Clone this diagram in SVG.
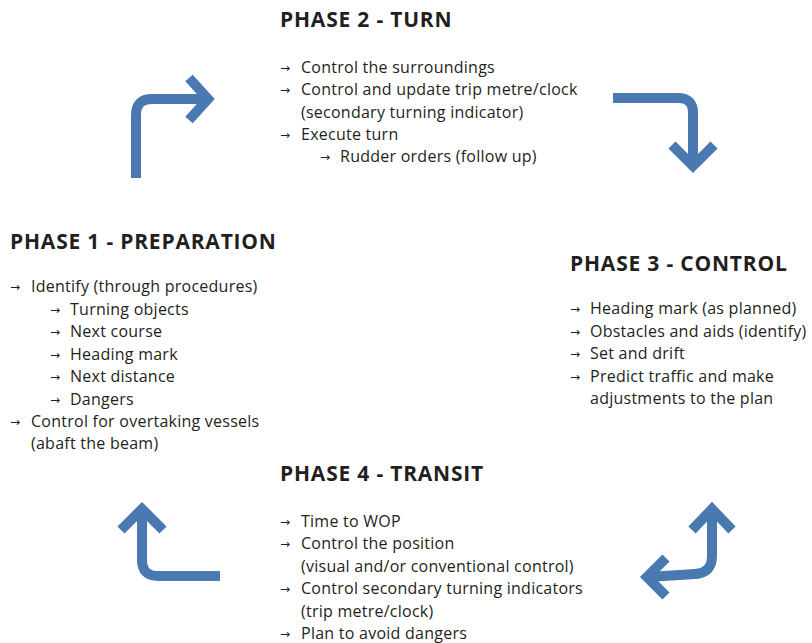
<svg xmlns="http://www.w3.org/2000/svg" width="812" height="643" viewBox="0 0 812 643">
<style>
.t{font-family:"Open Sans","Liberation Sans",sans-serif;font-weight:700;font-size:21px;letter-spacing:0.8px;fill:#231f20}
.b{font-family:"Open Sans","Liberation Sans",sans-serif;font-size:16px;letter-spacing:0.25px;fill:#231f20}
.a{font-family:"DejaVu Sans",sans-serif;font-size:12px;fill:#231f20}
.c{fill:none;stroke:#4a78b0;stroke-width:10;stroke-linecap:butt;stroke-linejoin:miter}
</style>
<rect width="812" height="643" fill="#ffffff"/>
<g id="connectors">
<path class="c" d="M136,178 V115 Q136,99 152,99 H208"/>
<path class="c" d="M189,78 L208,99 L189,120"/>
<path class="c" d="M613,98 H678 Q693,98 693,113 V165"/>
<path class="c" d="M672,145 L693,166 L714,145"/>
<path class="c" d="M220,576 H158 Q142,576 142,560 V510"/>
<path class="c" d="M121,530 L142,509 L163,530"/>
<path class="c" d="M712,510 V556 Q712,573 695,574 L648,577"/>
<path class="c" d="M692,530 L712,509 L732,530"/>
<path class="c" d="M666,558 L647,577 L666,596"/>
</g>
<g id="phase2">
<text class="t" x="280" y="27">PHASE 2 - TURN</text>
<text class="a" x="280" y="72">→</text><text class="b" x="301" y="73">Control the surroundings</text>
<text class="a" x="280" y="94">→</text><text class="b" x="301" y="95">Control and update trip metre/clock</text>
<text class="b" x="301" y="118">(secondary turning indicator)</text>
<text class="a" x="280" y="139">→</text><text class="b" x="301" y="140">Execute turn</text>
<text class="a" x="320" y="161">→</text><text class="b" x="340" y="162">Rudder orders (follow up)</text>
</g>
<g id="phase1">
<text class="t" x="10" y="249">PHASE 1 - PREPARATION</text>
<text class="a" x="10" y="291">→</text><text class="b" x="31" y="292">Identify (through procedures)</text>
<text class="a" x="50" y="314">→</text><text class="b" x="70" y="315">Turning objects</text>
<text class="a" x="50" y="336">→</text><text class="b" x="70" y="337">Next course</text>
<text class="a" x="50" y="359">→</text><text class="b" x="70" y="360">Heading mark</text>
<text class="a" x="50" y="381">→</text><text class="b" x="70" y="382">Next distance</text>
<text class="a" x="50" y="404">→</text><text class="b" x="70" y="405">Dangers</text>
<text class="a" x="10" y="426">→</text><text class="b" x="31" y="427">Control for overtaking vessels</text>
<text class="b" x="31" y="449">(abaft the beam)</text>
</g>
<g id="phase3">
<text class="t" x="570" y="271">PHASE 3 - CONTROL</text>
<text class="a" x="570" y="313">→</text><text class="b" x="590" y="314">Heading mark (as planned)</text>
<text class="a" x="570" y="336">→</text><text class="b" x="590" y="337">Obstacles and aids (identify)</text>
<text class="a" x="570" y="358">→</text><text class="b" x="590" y="359">Set and drift</text>
<text class="a" x="570" y="381">→</text><text class="b" x="590" y="382">Predict traffic and make</text>
<text class="b" x="590" y="404">adjustments to the plan</text>
</g>
<g id="phase4">
<text class="t" x="280" y="481">PHASE 4 - TRANSIT</text>
<text class="a" x="280" y="526">→</text><text class="b" x="301" y="527">Time to WOP</text>
<text class="a" x="280" y="548">→</text><text class="b" x="301" y="549">Control the position</text>
<text class="b" x="301" y="572">(visual and/or conventional control)</text>
<text class="a" x="280" y="593">→</text><text class="b" x="301" y="594">Control secondary turning indicators</text>
<text class="b" x="301" y="617">(trip metre/clock)</text>
<text class="a" x="280" y="638">→</text><text class="b" x="301" y="639">Plan to avoid dangers</text>
</g>
</svg>
